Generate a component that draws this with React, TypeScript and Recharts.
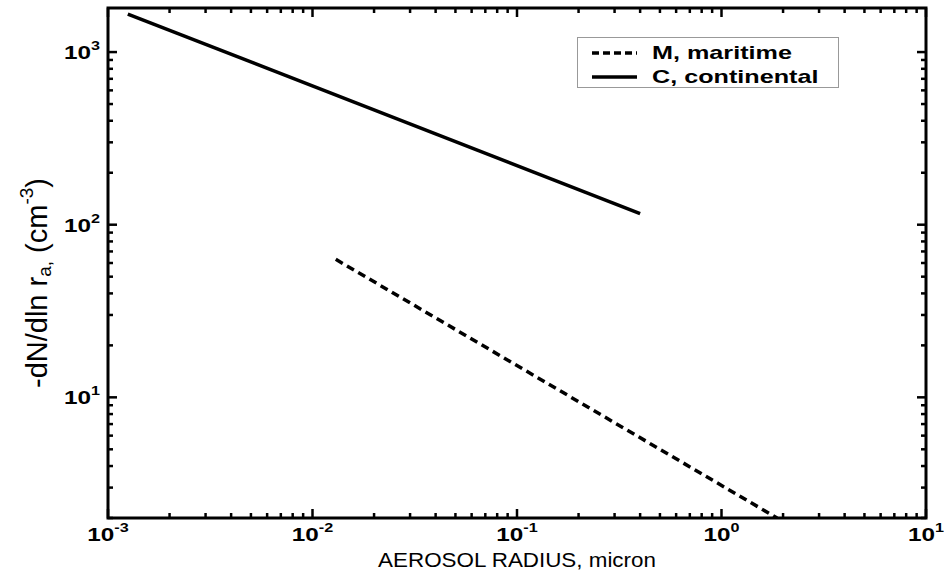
import { LineChart, Line, XAxis, YAxis, Legend, ReferenceArea } from 'recharts';

// values (log-log axes)
const continental = [
  { r: 0.00125, n: 1660 },
  { r: 0.4, n: 116 },
];
const maritime = [
  { r: 0.013, n: 63 },
  { r: 1.87, n: 2 },
];

const xDomain = [0.001, 10];
const yDomain = [2, 1800];
const xTicks = [
  0.001, 0.002, 0.003, 0.004, 0.005, 0.006, 0.007, 0.008, 0.009,
  0.01, 0.02, 0.03, 0.04, 0.05, 0.06, 0.07, 0.08, 0.09,
  0.1, 0.2, 0.3, 0.4, 0.5, 0.6, 0.7, 0.8, 0.9,
  1, 2, 3, 4, 5, 6, 7, 8, 9, 10,
];
const yTicks = [
  2, 3, 4, 5, 6, 7, 8, 9,
  10, 20, 30, 40, 50, 60, 70, 80, 90,
  100, 200, 300, 400, 500, 600, 700, 800, 900, 1000,
];

const legendNames = ['M, maritime', 'C, continental'];
const legendDash = ['7 4', undefined];

const FONT = '"Liberation Sans", Arial, Helvetica, sans-serif';

const isMajor = (v: number) => Math.abs(Math.log10(v) - Math.round(Math.log10(v))) < 1e-6;

function BottomTick(props: any) {
  const { x, y, payload } = props;
  const v = payload.value;
  const major = isMajor(v);
  const e = Math.round(Math.log10(v));
  return (
    <g>
      <path d={`M${x},${y}V${y - (major ? 9 : 5)}`} stroke="#000" strokeWidth={2.5} fill="none" />
      {major && (
        <text
          transform={`translate(${x},${y + 23}) scale(1.35,1)`}
          textAnchor="middle"
          fontFamily={FONT}
          fontWeight="bold"
          fontSize={18}
          fill="#000"
        >
          <tspan>10</tspan>
          <tspan dy={-9} fontSize={12}>{e}</tspan>
        </text>
      )}
    </g>
  );
}

function TopTick(props: any) {
  const { x, y, payload } = props;
  const major = isMajor(payload.value);
  return <path d={`M${x},${y}V${y + (major ? 9 : 5)}`} stroke="#000" strokeWidth={2.5} fill="none" />;
}

function LeftTick(props: any) {
  const { x, y, payload } = props;
  const v = payload.value;
  const major = isMajor(v);
  const e = Math.round(Math.log10(v));
  return (
    <g>
      <path d={`M${x},${y}H${x + (major ? 9 : 5)}`} stroke="#000" strokeWidth={2.5} fill="none" />
      {major && (
        <text
          transform={`translate(${x - 8},${y + 7}) scale(1.35,1)`}
          textAnchor="end"
          fontFamily={FONT}
          fontWeight="bold"
          fontSize={18}
          fill="#000"
        >
          <tspan>10</tspan>
          <tspan dy={-9} fontSize={12}>{e}</tspan>
        </text>
      )}
    </g>
  );
}

function RightTick(props: any) {
  const { x, y, payload } = props;
  const major = isMajor(payload.value);
  return <path d={`M${x},${y}H${x - (major ? 9 : 5)}`} stroke="#000" strokeWidth={2.5} fill="none" />;
}

function YLabel(props: any) {
  const vb = props.viewBox;
  const cx = vb.x + 37;
  const cy = vb.y + vb.height / 2 + 20;
  return (
    <text
      transform={`translate(${cx},${cy}) rotate(-90)`}
      textAnchor="middle"
      dominantBaseline="central"
      fontFamily={FONT}
      fontSize={29}
      fill="#000"
    >
      <tspan>-dN/dln r</tspan>
      <tspan dy={7} fontSize={19}>a,</tspan>
      <tspan dy={-7}> (cm</tspan>
      <tspan dy={-11} fontSize={19}>-3</tspan>
      <tspan dy={11}>)</tspan>
    </text>
  );
}

function XLabel(props: any) {
  const vb = props.viewBox;
  return (
    <text
      transform={`translate(${vb.x + vb.width / 2},${vb.y + 49}) scale(1.12,1)`}
      textAnchor="middle"
      fontFamily={FONT}
      fontSize={20}
      fill="#000"
    >
      AEROSOL RADIUS, micron
    </text>
  );
}

function LegendBox() {
  return (
    <svg width={262} height={51} style={{ display: 'block' }}>
      <rect x={0.5} y={0.5} width={261} height={50} fill="#fff" stroke="#999" strokeWidth={1} />
      {legendNames.map((name, i) => (
        <g key={name}>
          <line
            x1={15}
            x2={60}
            y1={16 + i * 24}
            y2={16 + i * 24}
            stroke="#000"
            strokeWidth={3.5}
            strokeDasharray={legendDash[i]}
          />
          <text
            transform={`translate(75,${22 + i * 24}) scale(1.4,1)`}
            fontFamily={FONT}
            fontWeight="bold"
            fontSize={18}
            fill="#000"
          >
            {name}
          </text>
        </g>
      ))}
    </svg>
  );
}

export default function App() {
  return (
    <div style={{ position: 'absolute', left: 0, top: 0, width: 944, height: 572, background: '#fff' }}>
      <LineChart width={944} height={572} margin={{ top: 7, right: 17, left: 0, bottom: 0 }}>
        <XAxis
          dataKey="r"
          type="number"
          scale="log"
          domain={xDomain}
          ticks={xTicks}
          interval={0}
          allowDataOverflow
          height={54}
          tickSize={0}
          tickMargin={0}
          tick={<BottomTick />}
          axisLine={false}
          label={<XLabel />}
        />
        <XAxis
          xAxisId="top"
          dataKey="r"
          orientation="top"
          type="number"
          scale="log"
          domain={xDomain}
          ticks={xTicks}
          interval={0}
          allowDataOverflow
          height={1}
          tickSize={0}
          tickMargin={0}
          tick={<TopTick />}
          axisLine={false}
        />
        <YAxis
          dataKey="n"
          type="number"
          scale="log"
          domain={yDomain}
          ticks={yTicks}
          interval={0}
          allowDataOverflow
          width={108}
          tickSize={0}
          tickMargin={0}
          tick={<LeftTick />}
          axisLine={false}
          label={<YLabel />}
        />
        <YAxis
          yAxisId="right"
          orientation="right"
          type="number"
          scale="log"
          domain={yDomain}
          ticks={yTicks}
          interval={0}
          allowDataOverflow
          width={1}
          tickSize={0}
          tickMargin={0}
          tick={<RightTick />}
          axisLine={false}
        />
        <ReferenceArea
          x1={xDomain[0]}
          x2={xDomain[1]}
          y1={yDomain[0]}
          y2={yDomain[1]}
          fill="none"
          stroke="#000"
          strokeWidth={3}
          ifOverflow="visible"
        />
        <Legend
          layout="vertical"
          align="center"
          verticalAlign="middle"
          content={<LegendBox />}
          wrapperStyle={{ left: 577, top: 37, width: 262, height: 51 }}
        />
        <Line
          data={maritime}
          dataKey="n"
          name="M, maritime"
          type="linear"
          stroke="#000"
          strokeWidth={3.5}
          strokeDasharray="8 5"
          dot={false}
          isAnimationActive={false}
        />
        <Line
          data={continental}
          dataKey="n"
          name="C, continental"
          type="linear"
          stroke="#000"
          strokeWidth={3.5}
          dot={false}
          isAnimationActive={false}
        />
      </LineChart>
    </div>
  );
}
